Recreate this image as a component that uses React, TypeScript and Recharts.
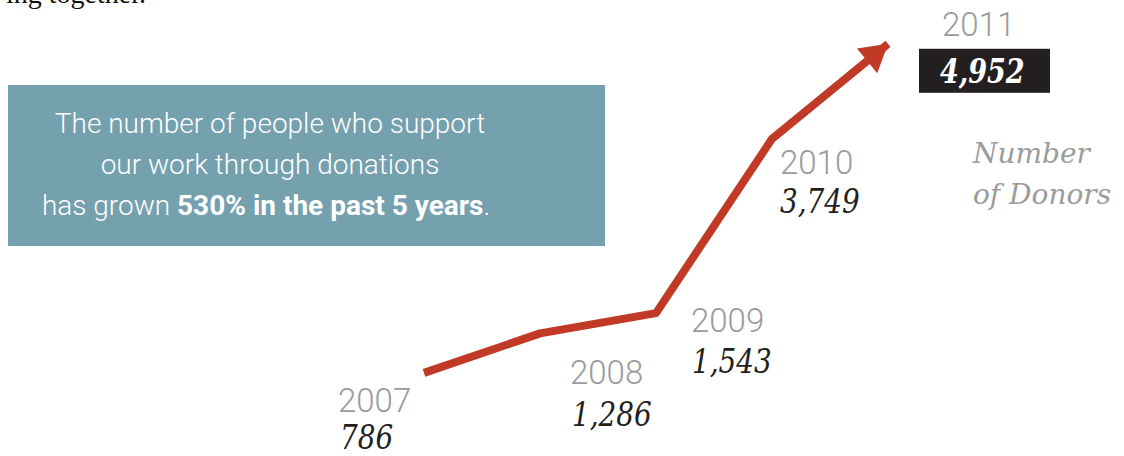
import { LabelList, Line, LineChart, XAxis, YAxis } from "recharts";

const years = [2007, 2008, 2009, 2010, 2011];
const donors = [786, 1286, 1543, 3749, 4952];
const yearLabels = ["2007", "2008", "2009", "2010", "2011"];
const donorLabels = ["786", "1,286", "1,543", "3,749", "4,952"];

// label placement relative to each point: [yearDx, yearDy, valueDx, valueDy]
const labelOffsets = [
  [-86, 39, -84, 76],
  [30, 51, 32, 93],
  [35, 19, 36, 60],
  [8, 35, 8, 74],
  [54, -8, 52, 39]
];

const lineColor = "#c13a26";
const yearColor = "#9b9b9b";
const valueColor = "#231f20";
const lightFont = "Roboto, 'Open Sans', sans-serif";
const slabFont = "'DejaVu Serif', serif";

const chartData = years.map((year, i) => ({ year, donors: donors[i] }));

function PointLabel(props: any) {
  const { x, y, index } = props;
  const [ydx, ydy, vdx, vdy] = labelOffsets[index];
  const last = index === years.length - 1;

  return (
    <g>
      <text
        x={x + ydx}
        y={y + ydy}
        fill={yearColor}
        fontFamily={lightFont}
        fontWeight={300}
        fontSize={33}
      >
        {yearLabels[index]}
      </text>
      {last && <rect x={x + 31} y={y + 5} width={131} height={44} fill="#231f20" />}
      <text
        transform={`translate(${x + vdx},${y + vdy}) scale(0.82,1)`}
        fill={last ? "#ffffff" : valueColor}
        fontFamily={slabFont}
        fontStyle="italic"
        fontWeight={last ? 700 : 400}
        fontSize={last ? 33 : 34}
      >
        {donorLabels[index]}
      </text>
    </g>
  );
}

function ArrowDot(props: any) {
  const { cx, cy, index, points } = props;
  if (index !== years.length - 1 || !points) return null;
  const prev = points[index - 1];
  const dx = cx - prev.x;
  const dy = cy - prev.y;
  const len = Math.hypot(dx, dy);
  const ux = dx / len;
  const uy = dy / len;
  const bx = cx - ux * 27;
  const by = cy - uy * 27;
  const half = 16;
  const d = `M${cx},${cy} L${bx - uy * half},${by + ux * half} L${bx + uy * half},${by - ux * half} Z`;
  return <path d={d} fill={lineColor} />;
}

export default function App() {
  return (
    <div style={{ position: "absolute", left: 0, top: 0, width: 1124, height: 456, background: "#fff", overflow: "hidden" }}>
      <svg width={1124} height={456} style={{ position: "absolute", left: 0, top: 0 }}>
        <text x={6} y={3} fontFamily="'Liberation Serif', serif" fontSize={28} fill="#111">
          ing together.
        </text>
        <rect x={8} y={85} width={597} height={161} fill="#75a0ae" />
        <g fill="#ffffff" fontFamily={lightFont} fontWeight={300} fontSize={28} textAnchor="middle">
          <text x={270} y={133}>The number of people who support</text>
          <text x={270} y={174}>our work through donations</text>
          <text x={266} y={215}>
            has grown <tspan fontWeight={700}>530% in the past 5 years</tspan>.
          </text>
        </g>
        <g fill={yearColor} fontFamily={slabFont} fontStyle="italic" fontSize={28}>
          <text x={973} y={163}>Number</text>
          <text x={973} y={204}>of Donors</text>
        </g>
      </svg>
      <div style={{ position: "absolute", left: 0, top: 0 }}>
        <LineChart width={1124} height={456} data={chartData} margin={{ top: 40, right: 236, bottom: 21, left: 424 }}>
          <XAxis dataKey="year" type="number" domain={[2007, 2011]} hide />
          <YAxis domain={[0, 5000]} hide />
          <Line
            dataKey="donors"
            type="linear"
            stroke={lineColor}
            strokeWidth={8}
            strokeLinecap="butt"
            strokeLinejoin="round"
            dot={(p: any) => <ArrowDot key={p.index} {...p} points={p.points} />}
            activeDot={false}
            isAnimationActive={false}
          >
            <LabelList dataKey="donors" content={PointLabel} />
          </Line>
        </LineChart>
      </div>
    </div>
  );
}
